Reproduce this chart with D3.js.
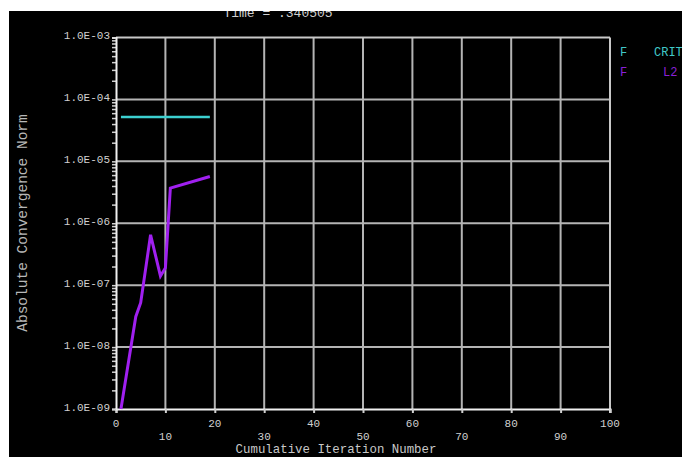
<!DOCTYPE html>
<html><head><meta charset="utf-8">
<script src="https://cdn.jsdelivr.net/npm/d3@7"></script>
<style>body{margin:0;background:#fff}svg{display:block}</style>
</head><body>
<script>
const titleText = "Time = .340505";
const xTickValues = [0,10,20,30,40,50,60,70,80,90,100];
const yTickValues = [1e-9,1e-8,1e-7,1e-6,1e-5,1e-4,1e-3];
const yTickLabels = ["1.0E-09","1.0E-08","1.0E-07","1.0E-06","1.0E-05","1.0E-04","1.0E-03"];
const critX = [1, 19];
const critY = [5.2e-5, 5.2e-5];
const l2X = [1, 4, 5, 7, 9, 10, 11, 19];
const l2Y = [1.0e-9, 3.1e-8, 5.2e-8, 6.5e-7, 1.4e-7, 1.9e-7, 3.7e-6, 5.7e-6];
const legendKeys = ["F","F"];
const legendLabels = ["CRIT","L2"];

const W = 682, H = 457;
const m = {left:116, right:610, top:37.5, bottom:409};
const mono = "'Liberation Mono','DejaVu Sans Mono',monospace";
const svg = d3.select("body").append("svg").attr("width",W).attr("height",H);
svg.append("rect").attr("width",W).attr("height",H).attr("fill","#fff");
svg.append("clipPath").attr("id","bg").append("rect").attr("x",9).attr("y",11).attr("width",W-9).attr("height",H-11);
const g = svg.append("g").attr("clip-path","url(#bg)");
g.append("rect").attr("x",9).attr("y",11).attr("width",W-9).attr("height",H-11).attr("fill","#000");

const x = d3.scaleLinear().domain([0,100]).range([m.left,m.right]);
const y = d3.scaleLog().domain([1e-9,1e-3]).range([m.bottom,m.top]);

// title
g.append("text").attr("x",278).attr("y",16.5).attr("text-anchor","middle")
 .attr("fill","#d0d0d0").attr("font-family",mono).attr("font-size",13).text(titleText);

// gridlines
const grid = g.append("g").attr("stroke","#b4b4b4").attr("stroke-width",2);
xTickValues.slice(1,-1).forEach(v=>{
  grid.append("line").attr("x1",x(v)).attr("x2",x(v)).attr("y1",m.top).attr("y2",m.bottom);
});
yTickValues.slice(1,-1).forEach(v=>{
  grid.append("line").attr("x1",m.left).attr("x2",m.right).attr("y1",y(v)).attr("y2",y(v));
});
// frame top/right
grid.append("line").attr("x1",m.left).attr("x2",m.right).attr("y1",m.top).attr("y2",m.top).attr("stroke","#c8c8c8");
grid.append("line").attr("x1",m.right).attr("x2",m.right).attr("y1",m.top).attr("y2",m.bottom+4).attr("stroke","#c8c8c8");

// x axis
const xAxis = d3.axisBottom(x).tickValues(xTickValues).tickSize(4).tickFormat("");
const xa = g.append("g").attr("transform",`translate(0,${m.bottom})`).call(xAxis);
xa.select(".domain").attr("stroke","#f0f0f0").attr("stroke-width",2);
xa.selectAll(".tick line").attr("stroke","#d0d0d0").attr("stroke-width",2);
xTickValues.forEach((v,i)=>{
  g.append("text").attr("x",x(v)).attr("y", i%2===0 ? 427 : 440).attr("text-anchor","middle")
   .attr("fill","#d0d0d0").attr("font-family",mono).attr("font-size",11).text(v);
});
g.append("text").attr("x",336).attr("y",453).attr("text-anchor","middle")
 .attr("fill","#c8c8c8").attr("font-family",mono).attr("font-size",12.4).text("Cumulative Iteration Number");

// y axis with minor ticks
const minor = [];
for (let e=-9;e<-3;e++) for (let k=2;k<=9;k++) minor.push(k*Math.pow(10,e));
const yMinor = d3.axisLeft(y).tickValues(minor).tickSize(4).tickFormat("");
const ym = g.append("g").attr("transform",`translate(${m.left},0)`).call(yMinor);
ym.select(".domain").remove();
ym.selectAll(".tick line").attr("stroke","#d0d0d0").attr("stroke-width",1.5);
const yAxis = d3.axisLeft(y).tickValues(yTickValues).tickSize(4).tickFormat((d,i)=>yTickLabels[i]);
const ya = g.append("g").attr("transform",`translate(${m.left},0)`).call(yAxis);
ya.select(".domain").attr("stroke","#f0f0f0").attr("stroke-width",2);
ya.selectAll(".tick line").attr("stroke","#d0d0d0").attr("stroke-width",1.5);
ya.selectAll(".tick text").attr("fill","#d0d0d0").attr("font-family",mono).attr("font-size",11).attr("x",-6).attr("dy","0.1em");
g.append("text").attr("transform",`translate(27,223) rotate(-90)`).attr("text-anchor","middle")
 .attr("fill","#b8b8b8").attr("font-family",mono).attr("font-size",14.5).text("Absolute Convergence Norm");

// series
const line = d3.line().x(d=>x(d[0])).y(d=>y(d[1]));
g.append("path").datum(critX.map((v,i)=>[v,critY[i]])).attr("d",line)
 .attr("fill","none").attr("stroke","#3cd0d0").attr("stroke-width",2.5);
g.append("path").datum(l2X.map((v,i)=>[v,l2Y[i]])).attr("d",line)
 .attr("fill","none").attr("stroke","#a020f0").attr("stroke-width",3).attr("stroke-linejoin","miter");

// legend
const legColors = ["#40c8c8","#8a20d8"];
legendKeys.forEach((k,i)=>{
  g.append("text").attr("x",620).attr("y",56+i*20).attr("fill",legColors[i]).attr("font-family",mono).attr("font-size",12).text(k);
});
g.append("text").attr("x",654).attr("y",56).attr("fill",legColors[0]).attr("font-family",mono).attr("font-size",12).text(legendLabels[0]);
g.append("text").attr("x",663).attr("y",76).attr("fill",legColors[1]).attr("font-family",mono).attr("font-size",12).text(legendLabels[1]);
</script>
</body></html>
